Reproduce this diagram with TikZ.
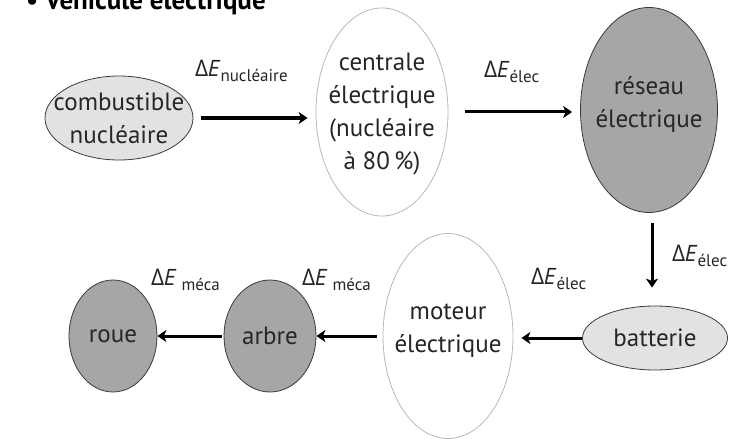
\documentclass[tikz,border=0pt]{standalone}
\usepackage{fontspec}
\setmainfont{PT Sans}
\newfontfamily\grk{Open Sans}
\usetikzlibrary{shapes.geometric,arrows.meta}
\definecolor{lightfill}{HTML}{E2E2E2}
\definecolor{darkfill}{HTML}{A6A6A6}
\definecolor{darkline}{HTML}{3A3A3A}
\definecolor{paleline}{HTML}{B8B8B8}
\newcommand{\dE}[2]{{\fontsize{23}{23}\selectfont{\grk Δ}\kern-0.5pt\textit{E}}\kern#2{\fontsize{17}{17}\selectfont\raisebox{-5pt}{#1}}}
\tikzset{
  blob/.style={ellipse, inner sep=0pt, line width=0.8pt},
  light/.style={blob, draw=darkline, fill=lightfill},
  dark/.style={blob, draw=darkline, fill=darkfill},
  pale/.style={blob, draw=paleline, fill=white},
  txt/.style={align=center, font=\fontsize{25}{33}\selectfont, text=black!85},
  lbl/.style={inner sep=0pt, anchor=base west, text=black!85},
  arr/.style={line width=3pt, -{Stealth[length=9pt,width=12pt,inset=2.5pt]}}
}
\begin{document}
\begin{tikzpicture}[x=1pt,y=-1pt]
\useasboundingbox (0,0) rectangle (746,441);
\clip (0,0) rectangle (746,441);
% title
\node[inner sep=0pt, anchor=base west, font=\bfseries\fontsize{27}{27}\selectfont] (title) at (26,10) {• Véhicule électrique};
% ellipses
\node[light, minimum width=148pt, minimum height=84pt] (comb) at (119,118) {};
\node[pale, minimum width=132pt, minimum height=208pt] (cent) at (382,112) {};
\node[dark, minimum width=137pt, minimum height=205pt] (res) at (649,110) {};
\node[light, minimum width=145pt, minimum height=64pt] (bat) at (655,338) {};
\node[pale, minimum width=130pt, minimum height=205pt] (mot) at (448,336) {};
\node[dark, minimum width=92pt, minimum height=112pt] (arbre) at (270,336) {};
\node[dark, minimum width=88pt, minimum height=112pt] (roue) at (113,336) {};
% texts
\node[txt] (tcomb) at (comb.center) {combustible\\nucléaire};
\node[txt] (tcent) at ([yshift=-2pt]cent.center) {centrale\\électrique\\(nucléaire\\à 80\,\%)};
\node[txt] (tres) at ([yshift=5pt]res.center) {réseau\\électrique};
\node[txt] (tbat) at (bat.center) {batterie};
\node[txt] (tmot) at ([yshift=5pt]mot.center) {moteur\\électrique};
\node[txt] (tarbre) at (arbre.center) {arbre};
\node[txt] (troue) at (roue.center) {roue};
% arrows
\draw[arr] ([xshift=8pt]comb.east) -- ([xshift=-8pt]cent.west |- comb.east);
\draw[arr] ([xshift=17pt]cent.east) -- ([xshift=-8pt]res.west |- cent.east);
\draw[arr] ([xshift=3pt,yshift=-10pt]res.south) -- ([xshift=3pt,yshift=18pt]res.south |- bat.north);
\draw[arr] (bat.west) -- ([xshift=8pt]mot.east |- bat.west);
\draw[arr] ([xshift=-6pt]mot.west |- arbre.east) -- (arbre.east);
\draw[arr] ([xshift=-2pt]arbre.west) -- (roue.east);
% labels
\node[lbl] (l1) at (195,77) {\dE{nucléaire}{0pt}};
\node[lbl] (l2) at (484,78) {\dE{élec}{0pt}};
\node[lbl] (l3) at (672,261) {\dE{élec}{0pt}};
\node[lbl] (l4) at (531,284) {\dE{élec}{0pt}};
\node[lbl] (l5) at (302,285) {\dE{méca}{5pt}};
\node[lbl] (l6) at (151,285) {\dE{méca}{5pt}};
\end{tikzpicture}
\end{document}
